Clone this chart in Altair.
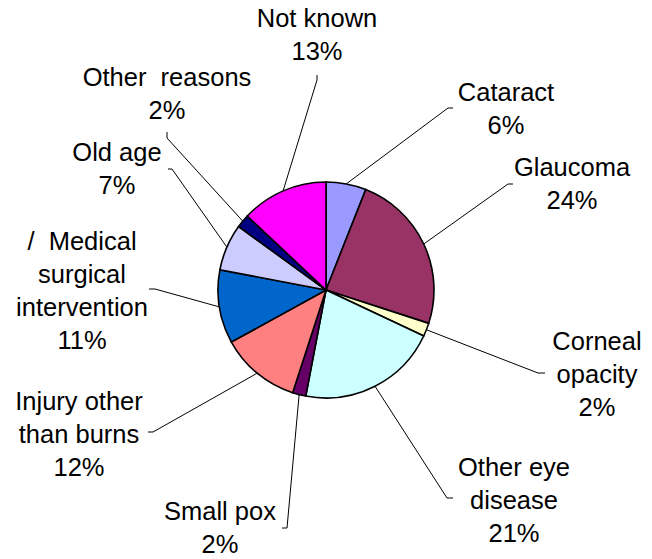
import math
import altair as alt
import pandas as pd

# ---- data ----
categories = ["Cataract", "Glaucoma", "Corneal opacity", "Other eye disease",
              "Small pox", "Injury other than burns",
              "/  Medical surgical intervention", "Old age", "Other  reasons",
              "Not known"]
percent = [6, 24, 2, 21, 2, 12, 11, 7, 2, 13]
label_text = ["Cataract", "Glaucoma", "Corneal\nopacity", "Other eye\ndisease",
              "Small pox", "Injury other\nthan burns",
              "/\u00a0 Medical\nsurgical\nintervention", "Old age",
              "Other\u00a0 reasons", "Not known"]
colors = ["#9999FF", "#993366", "#FFFFCC", "#CCFFFF", "#660066",
          "#FF8080", "#0066CC", "#CCCCFF", "#000080", "#FF00FF"]

# ---- layout (offsets from pie centre, px; label offset = first text line) ----
W, H = 636, 550
CX, CY = 318, 282
R = 108
label_dx = [180, 246, 271, 188, -106, -247, -244, -209, -159, -9]
label_dy = [-197, -122, 52, 178, 222, 112, -48, -137, -212, -271]
elbow_dx = [122, 182, 212, 121, -39, -173, -171, -154, -159, -9]
elbow_dy = [-182, -106, 83, 208, 238, 142, -1, -121, -152, -210]
tick_dx = [127, 187, 219, 127, -44, -178, -177, -158, -159, -9]
tick_dy = [-182, -106, 83, 208, 238, 142, -1, -121, -158, -215]

total = sum(percent)
df = pd.DataFrame({"cat": categories, "value": percent, "idx": range(len(categories))})

lab_rows = []
line_rows = []
cum = 0
for i, (c, v) in enumerate(zip(categories, percent)):
    mid = (cum + v / 2) / total * 2 * math.pi
    cum += v
    lab_rows.append({"cat": c, "label": f"{label_text[i]}\n{v}%",
                     "lx": CX + label_dx[i], "ly": CY + label_dy[i]})
    ex, ey = CX + R * math.sin(mid), CY - R * math.cos(mid)
    line_rows += [
        {"cat": c, "seq": 0, "px": ex, "py": ey},
        {"cat": c, "seq": 1, "px": CX + elbow_dx[i], "py": CY + elbow_dy[i]},
        {"cat": c, "seq": 2, "px": CX + tick_dx[i], "py": CY + tick_dy[i]},
    ]
df_lab = pd.DataFrame(lab_rows)
df_line = pd.DataFrame(line_rows)

xs = alt.Scale(domain=[0, W], range=[0, W], nice=False, zero=False)
ys = alt.Scale(domain=[0, H], range=[0, H], nice=False, zero=False)

pie = alt.Chart(df).mark_arc(radius=R, stroke="black", strokeWidth=1.6).encode(
    theta=alt.Theta("value:Q", stack=True),
    color=alt.Color("cat:N", scale=alt.Scale(domain=categories, range=colors), legend=None),
    order=alt.Order("idx:Q"),
    x=alt.XDatum(CX, type="quantitative", scale=xs, axis=None),
    y=alt.YDatum(CY, type="quantitative", scale=ys, axis=None),
)

lines = alt.Chart(df_line).mark_line(color="black", strokeWidth=1).encode(
    x=alt.X("px:Q", scale=xs, axis=None),
    y=alt.Y("py:Q", scale=ys, axis=None),
    detail="cat:N",
    order="seq:Q",
)

labels = alt.Chart(df_lab).mark_text(
    font="Liberation Sans", fontSize=25.5, lineBreak="\n", lineHeight=33,
    align="center", baseline="middle", color="black",
).encode(
    x=alt.X("lx:Q", scale=xs, axis=None),
    y=alt.Y("ly:Q", scale=ys, axis=None),
    text="label:N",
)

chart = alt.layer(lines, pie, labels).properties(
    width=W, height=H, autosize=alt.AutoSizeParams(type="none"), padding=0,
).configure_view(stroke=None)

chart.save("out.html", embed_options={"renderer": "svg", "actions": False})
